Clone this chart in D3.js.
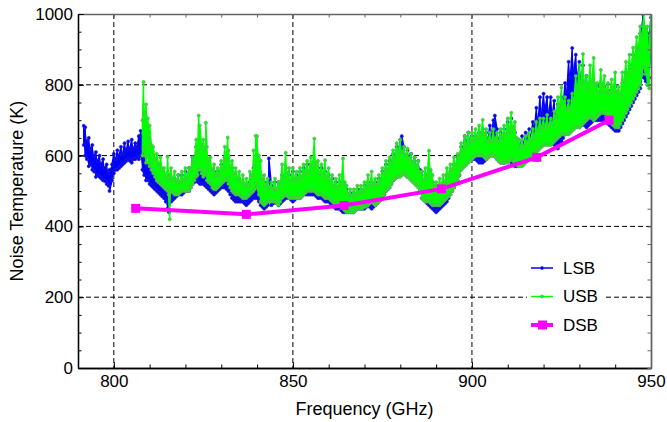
<!DOCTYPE html>
<html>
<head>
<meta charset="utf-8">
<script src="https://cdn.jsdelivr.net/npm/d3@7"></script>
<style>
  body { margin: 0; background: #fff; }
  text { font-family: "Liberation Sans", Arial, sans-serif; }
</style>
</head>
<body>
<div id="plot"></div>
<script>
// each entry: [frequency GHz, low edge K, high edge K] of the noisy trace
var lsb = [[791.6,630,684],[792,600,680],[792.5,590,640],[793,570,650],[793.5,575,620],[794,560,630],[794.5,555,600],[795,540,610],[795.5,545,585],[796,540,600],
  [796.5,535,575],[797,530,590],[797.5,528,565],[798,520,575],[798.5,515,550],[798.8,500,560],[799.5,530,575],[800,550,605],[800.5,560,590],[801,560,615],
  [801.5,565,600],[802,570,625],[802.5,575,605],[803,580,635],[803.5,585,615],[804,590,640],[804.5,585,620],[805,580,645],[805.5,590,620],[806,590,635],
  [806.5,595,625],[807,590,655],[807.5,600,670],[808,560,625],[808.5,545,600],[809,530,595],[809.5,530,570],[810,520,585],[810.5,515,560],[811,510,575],
  [811.5,505,545],[812,500,555],[812.5,495,530],[813,490,545],[813.5,485,520],[814,480,535],[814.5,470,510],[815,450,515],[815.4,440,500],[816,470,525],
  [816.5,475,505],[817,480,535],[817.5,485,515],[818,490,545],[818.5,490,520],[819,490,545],[819.5,495,525],[820,500,555],[820.5,500,530],[821,500,565],
  [821.5,510,550],[822,520,595],[822.5,525,570],[823,530,625],[823.5,525,590],[824,520,615],[824.5,520,580],[825,520,605],[825.5,515,570],[826,510,585],
  [826.5,505,550],[827,500,565],[827.5,495,535],[828,490,555],[828.5,495,530],[829,500,555],[829.5,505,540],[830,510,575],[830.5,510,550],[831,510,595],
  [831.5,505,560],[832,500,595],[832.5,490,545],[833,480,565],[833.5,475,520],[834,470,535],[834.5,470,505],[835,470,525],[835.5,470,500],[836,470,525],
  [836.5,465,495],[837,460,515],[837.5,465,495],[838,470,525],[838.5,475,510],[839,480,565],[839.5,480,530],[840,480,585],[840.5,470,540],[841,460,545],
  [841.5,455,510],[842,450,525],[842.5,455,500],[843,460,525],[843.3,470,592],[844,460,515],[844.5,465,495],[845,470,525],[845.5,465,500],[846,460,525],
  [846.5,465,510],[847,470,545],[847.5,475,520],[848,480,565],[848.5,480,525],[849,480,545],[849.5,475,520],[850,470,555],[850.5,475,525],[851,480,545],
  [851.5,480,525],[852,480,555],[852.5,485,530],[853,490,565],[853.5,490,540],[854,490,575],[854.5,490,545],[855,490,575],[855.5,490,550],[856,490,585],
  [856.5,485,545],[857,480,565],[857.5,480,540],[858,480,565],[858.5,475,530],[859,470,555],[859.5,470,525],[860,470,545],[860.5,465,515],[861,460,535],
  [861.5,455,505],[862,450,525],[862.5,450,500],[863,450,525],[863.5,445,495],[864,440,525],[864.5,440,490],[865,440,505],[865.5,440,480],[866,440,495],
  [866.5,440,475],[867,440,495],[867.5,445,480],[868,450,505],[868.5,450,485],[869,450,505],[869.5,450,490],[870,450,515],[870.5,455,495],[871,460,525],
  [871.5,455,495],[872,450,515],[872.5,455,500],[873,460,525],[873.5,465,505],[874,470,535],[874.5,475,520],[875,480,555],[875.5,490,540],[876,500,575],
  [876.5,505,555],[877,510,585],[877.5,520,570],[878,530,605],[878.5,535,590],[879,540,625],[879.5,550,610],[880,560,645],[880.4,570,655],[881,550,625],
  [881.5,545,600],[882,540,615],[882.5,540,590],[883,540,605],[883.5,535,580],[884,530,595],[884.5,525,570],[885,520,585],[885.5,500,560],[886,480,555],
  [886.5,475,525],[887,470,545],[887.5,465,515],[888,460,535],[888.5,455,505],[889,450,525],[889.5,445,495],[890,440,515],[890.5,445,490],[891,450,505],
  [891.5,455,495],[892,460,525],[892.5,465,510],[893,470,545],[893.5,480,530],[894,490,555],[894.5,500,545],[895,510,575],[895.5,520,565],[896,530,595],
  [896.5,545,590],[897,560,625],[897.5,570,615],[898,580,655],[898.5,585,635],[899,590,665],[899.5,590,640],[900,590,655],[900.5,590,630],[901,590,655],
  [901.5,585,630],[902,580,665],[902.5,580,640],[903,580,675],[903.5,585,640],[904,590,665],[904.5,595,645],[905,600,685],[905.5,600,660],[906,600,700],
  [906.4,610,713],[907,590,675],[907.5,585,645],[908,580,665],[908.5,580,640],[909,580,675],[909.5,585,650],[910,590,695],[910.5,585,660],[911,580,705],
  [911.5,575,650],[912,570,665],[912.5,570,630],[913,570,645],[913.5,575,625],[914,580,655],[914.5,585,635],[915,590,665],[915.5,595,645],[916,600,675],
  [916.5,605,655],[917,610,695],[917.5,615,680],[918,620,735],[918.5,630,700],[919,640,765],[919.5,645,720],[920,650,775],[920.5,655,735],[921,660,765],
  [921.5,650,720],[922,640,765],[922.5,635,720],[923,630,755],[923.5,625,710],[924,620,745],[924.5,630,720],[925,640,765],[925.5,650,740],[926,660,805],
  [926.5,670,780],[927,680,865],[927.5,690,820],[928,700,904],[928.5,695,840],[929,690,885],[929.5,685,820],[930,680,865],[930.5,685,810],[931,690,855],
  [931.5,685,800],[932,680,825],[932.5,685,780],[933,690,805],[933.5,695,770],[934,700,805],[934.5,700,770],[935,700,795],[935.5,700,765],[936,700,805],
  [936.5,700,770],[937,700,795],[937.5,695,760],[938,690,785],[938.5,685,750],[939,680,785],[939.5,675,750],[940,670,795],[940.5,670,750],[941,670,775],
  [941.5,680,760],[942,690,805],[942.5,700,780],[943,710,835],[943.5,720,800],[944,730,855],[944.5,740,830],[945,750,885],[945.5,760,850],[946,770,905],
  [946.5,780,880],[947,790,945],[947.7,850,1000],[948,820,965],[948.5,810,920],[949,800,945],[949.5,820,930],[950,880,990]];

var usb = [[808,600,700],[808.3,620,808],[808.6,600,720],[809,580,745],[809.5,600,705],[809.8,580,650],[810,570,685],[810.5,560,630],[811,550,625],[811.5,540,590],
  [812,530,605],[812.5,525,575],[813,520,595],[813.5,515,560],[814,510,565],[814.5,505,540],[815,500,597],[815.3,490,530],[815.6,420,545],[816,500,565],
  [816.5,495,535],[817,490,555],[817.5,490,525],[818,490,545],[818.5,495,525],[819,500,555],[819.5,500,530],[820,500,565],[820.5,500,535],[821,500,565],
  [821.5,510,560],[822,520,595],[822.5,530,580],[823,540,645],[823.4,545,610],[823.7,560,713],[824,560,685],[824.5,550,630],[825,540,645],[825.4,545,615],
  [825.7,560,693],[826,530,625],[826.5,525,590],[827,520,595],[827.5,510,560],[828,505,575],[828.5,505,545],[829,510,565],[829.5,515,545],[830,520,585],
  [830.5,525,565],[831,530,625],[831.4,530,590],[831.8,540,651],[832,520,615],[832.5,510,570],[833,500,585],[833.5,495,550],[834,490,565],[834.5,490,535],
  [835,490,555],[835.5,485,525],[836,480,545],[836.5,480,515],[837,480,535],[837.5,485,515],[838,490,555],[838.5,495,545],[839,500,615],[839.3,505,570],
  [839.6,520,656],[840,510,655],[840.5,490,600],[841,470,585],[841.5,465,535],[842,460,545],[842.5,465,515],[843,470,535],[843.5,470,510],[844,470,525],
  [844.5,470,505],[845,470,535],[845.5,465,505],[846,460,525],[846.5,470,520],[847,480,575],[847.5,485,540],[848,490,608],[848.5,485,550],[849,480,565],
  [849.5,480,530],[850,480,565],[850.5,480,535],[851,480,555],[851.5,480,530],[852,480,565],[852.5,485,540],[853,490,575],[853.5,495,550],[854,500,585],
  [854.5,500,555],[855,500,595],[855.5,500,570],[856,500,648],[856.5,495,580],[857,490,585],[857.5,490,550],[858,490,575],[858.5,485,545],[859,480,587],
  [859.5,480,540],[860,480,565],[860.5,475,530],[861,470,545],[861.5,465,515],[862,460,535],[862.5,460,510],[863,460,545],[863.5,455,520],[864,450,592],
  [864.5,445,525],[865,440,515],[865.5,440,490],[866,440,505],[866.5,440,485],[867,440,505],[867.5,445,490],[868,450,515],[868.5,450,495],[869,450,515],
  [869.5,452,500],[870,455,525],[870.5,457,510],[871,460,545],[871.5,465,515],[872,470,555],[872.5,465,520],[873,460,535],[873.5,465,515],[874,470,545],
  [874.5,475,525],[875,480,565],[875.5,490,550],[876,500,585],[876.5,505,560],[877,510,595],[877.5,520,580],[878,530,615],[878.5,535,595],[879,540,635],
  [879.5,540,610],[880,540,645],[880.5,545,610],[881,550,625],[881.5,545,600],[882,540,620],[882.5,535,590],[883,530,605],[883.5,525,580],[884,520,595],
  [884.5,515,570],[885,510,585],[885.5,495,555],[886,480,555],[886.5,475,530],[887,470,565],[887.5,470,540],[888,470,614],[888.5,465,560],[889,460,545],
  [889.5,460,515],[890,460,525],[890.5,460,505],[891,460,535],[891.5,465,515],[892,470,545],[892.5,475,525],[893,480,565],[893.5,485,545],[894,490,575],
  [894.5,500,560],[895,510,595],[895.5,520,575],[896,530,605],[896.5,545,595],[897,560,635],[897.5,565,615],[898,570,655],[898.5,575,630],[899,580,665],
  [899.5,585,640],[900,590,665],[900.5,595,645],[901,600,675],[901.5,600,650],[902,600,685],[902.5,600,660],[903,600,701],[903.5,595,660],[904,590,675],
  [904.5,595,640],[905,600,665],[905.5,600,640],[906,600,675],[906.5,595,645],[907,590,665],[907.5,585,640],[908,580,675],[908.5,580,650],[909,580,685],
  [909.5,580,660],[910,580,705],[910.5,585,670],[911,590,721],[911.5,585,680],[912,580,695],[912.5,575,650],[913,570,645],[913.5,570,625],[914,570,645],
  [914.5,575,625],[915,580,655],[915.5,585,635],[916,590,665],[916.5,595,645],[917,600,675],[917.5,605,655],[918,610,695],[918.5,615,670],[919,620,705],
  [919.5,625,680],[920,630,705],[920.5,630,680],[921,630,715],[921.5,630,685],[922,630,705],[922.5,635,690],[923,640,725],[923.5,645,710],[924,650,765],
  [924.5,655,740],[925,660,792],[925.5,660,750],[926,660,765],[926.5,660,730],[927,660,755],[927.5,665,730],[928,670,775],[928.5,675,760],[929,680,825],
  [929.5,680,790],[930,680,855],[930.5,685,800],[931,690,887],[931.5,695,810],[932,700,825],[932.5,705,790],[933,710,855],[933.5,705,810],[934,700,876],
  [934.5,705,800],[935,710,805],[935.5,715,780],[936,720,842],[936.5,720,800],[937,720,825],[937.5,710,780],[938,700,805],[938.5,695,775],[939,690,815],
  [939.5,685,790],[940,680,835],[940.5,680,780],[941,680,795],[941.5,690,770],[942,700,835],[942.5,710,810],[943,720,865],[943.5,730,830],[944,740,885],
  [944.5,750,850],[945,760,905],[945.5,770,880],[946,780,935],[946.5,790,900],[947,800,965],[947.5,830,940],[948,850,1000],[948.5,830,960],[949,800,965],
  [949.5,790,900],[950,900,1000]];

var dsbFreq = [806.1, 837.0, 864.3, 891.5, 918.1, 938.3];
var dsbTemp = [451, 434, 459, 506, 595, 700];

var xMajor = [800, 850, 900, 950];
var yMajor = [0, 200, 400, 600, 800, 1000];
var xGrid = [800, 850, 900];
var yGrid = [200, 400, 600, 800];
var legendNames = ["LSB", "USB", "DSB"];

var margin = {top: 14, right: 16, bottom: 54, left: 78},
    width = 667 - margin.left - margin.right,
    height = 422 - margin.top - margin.bottom;

var svg = d3.select("#plot").append("svg")
    .attr("width", 667)
    .attr("height", 422)
  .append("g")
    .attr("transform", "translate(" + margin.left + "," + margin.top + ")");

var x = d3.scaleLinear().domain([790, 950]).range([0, width]);
var y = d3.scaleLinear().domain([0, 1000]).range([height, 0]);

svg.append("clipPath").attr("id", "clip")
  .append("rect").attr("width", width).attr("height", height);

// dashed grid
svg.selectAll(".vgrid").data(xGrid).enter().append("line")
    .attr("x1", d => x(d)).attr("x2", d => x(d))
    .attr("y1", 0).attr("y2", height)
    .attr("stroke", "#000").attr("stroke-dasharray", "5,3");
svg.selectAll(".hgrid").data(yGrid).enter().append("line")
    .attr("x1", 0).attr("x2", width)
    .attr("y1", d => y(d)).attr("y2", d => y(d))
    .attr("stroke", "#000").attr("stroke-dasharray", "5,3");

var plot = svg.append("g").attr("clip-path", "url(#clip)");

function drawTrace(data, color, markerStroke) {
  // filled band between the low and high edges
  plot.append("path").datum(data)
      .attr("fill", color)
      .attr("d", d3.area().x(d => x(d[0])).y0(d => y(d[1])).y1(d => y(d[2])));
  // zig-zag through the edge values
  var pts = [];
  data.forEach(function(d, i) {
    if (i % 2 === 0) { pts.push([d[0], d[1]]); pts.push([d[0], d[2]]); }
    else { pts.push([d[0], d[2]]); pts.push([d[0], d[1]]); }
  });
  plot.append("path").datum(pts)
      .attr("fill", "none").attr("stroke", color).attr("stroke-width", 1.5)
      .attr("d", d3.line().x(d => x(d[0])).y(d => y(d[1])));
  plot.selectAll(null).data(pts).enter().append("circle")
      .attr("cx", d => x(d[0])).attr("cy", d => y(d[1]))
      .attr("r", 1.6)
      .attr("fill", color)
      .attr("stroke", markerStroke).attr("stroke-width", 0.6);
}

drawTrace(lsb, "#0000ff", "#2a2ab0");
drawTrace(usb, "#00ff00", "#7f9a7f");

// DSB
var dsb = dsbFreq.map((f, i) => [f, dsbTemp[i]]);
plot.append("path").datum(dsb)
    .attr("fill", "none").attr("stroke", "#ff00ff").attr("stroke-width", 4)
    .attr("d", d3.line().x(d => x(d[0])).y(d => y(d[1])));
plot.selectAll(null).data(dsb).enter().append("rect")
    .attr("x", d => x(d[0]) - 4.5).attr("y", d => y(d[1]) - 4.5)
    .attr("width", 9).attr("height", 9)
    .attr("fill", "#ff00ff");

// axes
function styleAxis(g, color, width) {
  g.select(".domain").attr("stroke", color).attr("stroke-width", width);
  g.selectAll(".tick line").attr("stroke", color);
  g.selectAll(".tick text").attr("font-size", 17).attr("fill", "#000")
      .attr("font-family", "Liberation Sans, Arial, sans-serif");
}

svg.append("g").attr("transform", "translate(0," + height + ")")
    .call(d3.axisBottom(x).ticks(16).tickSizeInner(-3.5).tickSizeOuter(0).tickFormat(""))
    .call(g => styleAxis(g, "#000", 1.3));
svg.append("g").attr("transform", "translate(0," + height + ")")
    .call(d3.axisBottom(x).tickValues(xMajor).tickSizeInner(-6).tickSizeOuter(0).tickPadding(7))
    .call(g => styleAxis(g, "#000", 1.3));
svg.append("g")
    .call(d3.axisTop(x).ticks(16).tickSizeInner(-3.5).tickSizeOuter(0).tickFormat(""))
    .call(g => styleAxis(g, "#666", 1.6));
svg.append("g")
    .call(d3.axisLeft(y).ticks(20).tickSizeInner(-3.5).tickSizeOuter(0).tickFormat(""))
    .call(g => styleAxis(g, "#000", 1.3));
svg.append("g")
    .call(d3.axisLeft(y).tickValues(yMajor).tickSizeInner(-6).tickSizeOuter(0).tickPadding(5).tickFormat(d3.format("d")))
    .call(g => styleAxis(g, "#000", 1.3));
svg.append("g").attr("transform", "translate(" + width + ",0)")
    .call(d3.axisRight(y).ticks(20).tickSizeInner(-3.5).tickSizeOuter(0).tickFormat(""))
    .call(g => styleAxis(g, "#666", 1.8));

// axis titles
svg.append("text")
    .attr("x", width / 2).attr("y", height + 47)
    .attr("text-anchor", "middle").attr("font-size", 18)
    .text("Frequency (GHz)");
svg.append("text")
    .attr("transform", "rotate(-90)")
    .attr("x", -177).attr("y", -55)
    .attr("text-anchor", "middle").attr("font-size", 18)
    .text("Noise Temperature (K)");

// legend
var legend = svg.append("g").attr("transform", "translate(449,241)");
legend.append("rect").attr("x", 0).attr("y", 0).attr("width", 79).attr("height", 84).attr("fill", "#fff");
var legColors = ["#0000ff", "#00ff00", "#ff00ff"];
legendNames.forEach(function(name, i) {
  var ly = 13 + i * 28.5;
  legend.append("line").attr("x1", 4).attr("x2", 26).attr("y1", ly).attr("y2", ly)
      .attr("stroke", legColors[i]).attr("stroke-width", i === 2 ? 4 : 1.5);
  if (i === 2) {
    legend.append("rect").attr("x", 11).attr("y", ly - 4.5).attr("width", 9).attr("height", 9).attr("fill", legColors[i]);
  } else {
    legend.append("circle").attr("cx", 15).attr("cy", ly).attr("r", 1.6)
        .attr("fill", legColors[i]).attr("stroke", i === 1 ? "#7f9a7f" : "#2a2ab0").attr("stroke-width", 0.6);
  }
  legend.append("text").attr("x", 36).attr("y", ly).attr("dy", "0.35em")
      .attr("font-size", 17).text(name);
});
</script>
</body>
</html>
